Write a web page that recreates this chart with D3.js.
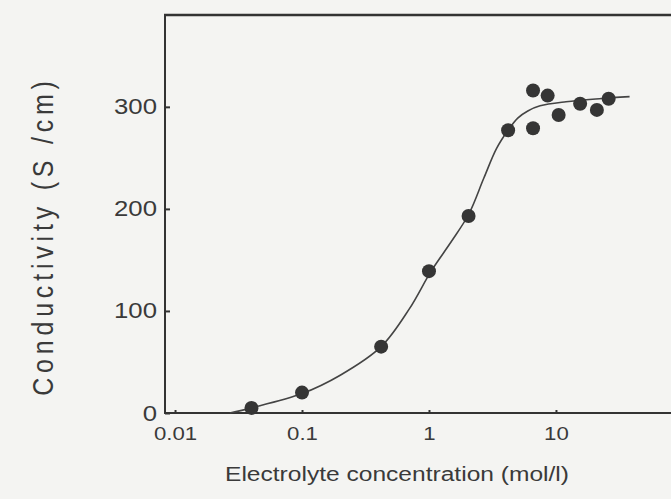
<!DOCTYPE html>
<html><head><meta charset="utf-8">
<script src="https://cdn.jsdelivr.net/npm/d3@7/dist/d3.min.js"></script>
<style>
html,body{margin:0;padding:0;background:#f4f4f2;}
svg{display:block;}
text{font-family:"Liberation Sans",Arial,sans-serif;fill:#3a3a3a;}
</style></head>
<body>
<svg id="chart" width="671" height="499"></svg>
<script>
// measured points
const concentration = [0.04, 0.1, 0.42, 1.0, 2.05, 4.2, 6.6, 6.6, 8.6, 10.5, 15.5, 21, 26];
const conductivity  = [5, 20, 65, 139, 193, 277, 279, 316, 311, 292, 303, 297, 308];
// fitted curve
const curveX = [0.027, 0.04, 0.1, 0.2, 0.42, 0.7, 1.04, 1.5, 2.06, 2.7, 3.4, 4.19, 5.0, 6.0, 7.5, 12, 22, 38];
const curveY = [0, 5, 19, 37, 65, 102, 139, 168, 195, 230, 259, 277, 289, 296, 301, 305, 308, 310];
const xTicks = [0.01, 0.1, 1, 10];
const xTickLabels = ["0.01", "0.1", "1", "10"];
const yTicks = [0, 100, 200, 300];
const xTitle = "Electrolyte concentration (mol/l)";
const yTitle = "Conductivity (S /cm)";

(function () {
const svg = d3.select("#chart");
const ink = "#333";
const mLeft = 165, mBottom = 413, mTop = 15, mRight = 671;
const stretch = 1.17; // the figure is a little wider than tall

const x = d3.scaleLog().domain([Math.pow(10, -2.079), Math.pow(10, 1.906)]).range([mLeft, mRight]);
const y = d3.scaleLinear().domain([0, 390]).range([mBottom, mTop]);

// frame: top line
svg.append("line").attr("x1", mLeft - 1).attr("x2", mRight).attr("y1", mTop).attr("y2", mTop)
  .attr("stroke", ink).attr("stroke-width", 2.4);

// y axis
const yAxis = d3.axisLeft(y).tickValues(yTicks).tickSize(-5).tickPadding(8).tickSizeOuter(0);
const gy = svg.append("g").attr("transform", `translate(${mLeft},0)`).call(yAxis);
gy.select(".domain").attr("stroke", ink).attr("stroke-width", 2).attr("d", `M0,${mTop}V${mBottom}`);
gy.selectAll(".tick line").attr("stroke", ink).attr("stroke-width", 2);
gy.selectAll(".tick text").attr("font-size", 22).attr("fill", "#3a3a3a")
  .attr("font-family", "Liberation Sans, Arial, sans-serif")
  .attr("x", -8 / stretch).attr("transform", `scale(${stretch},1)`);

// x axis
const xAxis = d3.axisBottom(x).tickValues(xTicks).tickFormat((d, i) => xTickLabels[i])
  .tickSize(-3).tickPadding(14).tickSizeOuter(0);
const gx = svg.append("g").attr("transform", `translate(0,${mBottom})`).call(xAxis);
gx.select(".domain").attr("stroke", ink).attr("stroke-width", 2.2).attr("d", `M${mLeft - 1},0H${mRight}`);
gx.selectAll(".tick line").attr("stroke", ink).attr("stroke-width", 2);
gx.selectAll(".tick text").attr("font-size", 19).attr("fill", "#3a3a3a")
  .attr("font-family", "Liberation Sans, Arial, sans-serif")
  .attr("transform", `scale(${stretch},1)`);

// curve
const line = d3.line().x(d => x(d[0])).y(d => y(d[1])).curve(d3.curveCatmullRom.alpha(0.5));
svg.append("path").datum(curveX.map((v, i) => [v, curveY[i]]))
  .attr("d", line).attr("fill", "none").attr("stroke", "#444").attr("stroke-width", 1.6);

// points
svg.append("g").selectAll("circle").data(concentration.map((v, i) => [v, conductivity[i]]))
  .join("circle").attr("cx", d => x(d[0])).attr("cy", d => y(d[1])).attr("r", 7)
  .attr("fill", "#353535");

// titles
svg.append("text").attr("transform", `translate(397,481) scale(${stretch},1)`).attr("text-anchor", "middle")
  .attr("font-size", 21).text(xTitle);
svg.append("text").attr("transform", `translate(53,236) scale(${stretch},1) rotate(-90)`)
  .attr("text-anchor", "middle")
  .attr("font-size", 25).attr("letter-spacing", "4.8px").text(yTitle);
})();
</script>
</body></html>
